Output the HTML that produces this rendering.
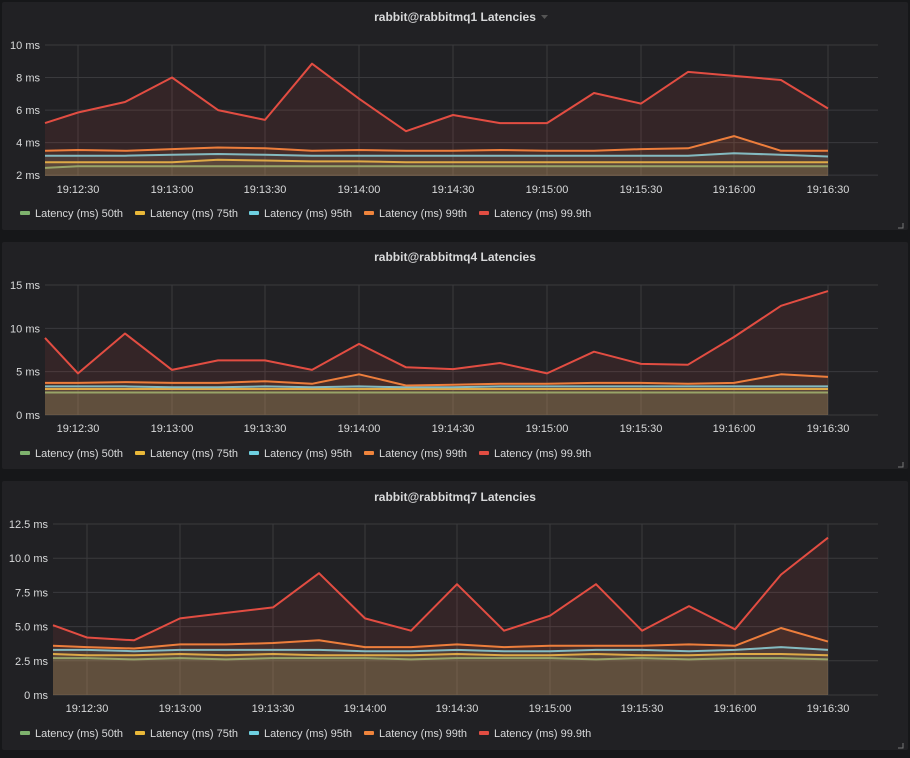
<!DOCTYPE html>
<html><head><meta charset="utf-8"><style>
body{margin:0;background:#161719;width:910px;height:753px;overflow:hidden;font-family:"Liberation Sans",sans-serif}
</style></head><body>
<svg id="s" width="910" height="753" xmlns="http://www.w3.org/2000/svg" font-family="Liberation Sans, sans-serif"></svg>
<script>
const S=document.getElementById('s');let h='';
const C={g:'#7eb26d',y:'#eab839',b:'#6ed0e0',o:'#ef843c',r:'#e24d42'};
function panel(p){
 h+=`<rect x="2" y="${p.py}" width="906" height="${p.ph}" fill="#212124" rx="2"/>`;
 h+=`<text x="455" y="${p.ty}" fill="#d8d9da" font-size="12" font-weight="bold" text-anchor="middle">${p.title}</text>`;
 if(p.caret)h+=`<path d="M541 ${p.ty-6}l7 0l-3.5 4z" fill="#555"/>`;
 const y=v=>p.y0+(v-p.vmin)*(p.y1-p.y0)/(p.vmax-p.vmin);
 p.yt.forEach(t=>{h+=`<line x1="${p.xl}" x2="878" y1="${y(t[0])}" y2="${y(t[0])}" stroke="#3a3a3d"/>`;
  h+=`<text x="${p.xl-5}" y="${y(t[0])+4}" fill="#d8d9da" font-size="11" text-anchor="end">${t[1]}</text>`;});
 const lbl=['19:12:30','19:13:00','19:13:30','19:14:00','19:14:30','19:15:00','19:15:30','19:16:00','19:16:30'];
 p.xt.forEach((x,i)=>{h+=`<line x1="${x}" x2="${x}" y1="${p.y1}" y2="${p.y0}" stroke="#3a3a3d"/>`;
  h+=`<text x="${x}" y="${p.y0+17}" fill="#d8d9da" font-size="11" text-anchor="middle">${lbl[i]}</text>`;});
 const xs=p.xs;
 ['g','y','b','o','r'].forEach(k=>{const d=p.d[k];
  const pts=d.map((v,i)=>xs[i]+','+y(v).toFixed(1)).join(' ');
  h+=`<polygon points="${xs[0]},${p.y0} ${pts} ${xs[xs.length-1]},${p.y0}" fill="${C[k]}" fill-opacity="0.1"/>`;
  h+=`<polyline points="${pts}" fill="none" stroke="${C[k]}" stroke-width="2" stroke-linejoin="round"/>`;});
 const L=[['g','50th',20],['y','75th',135],['b','95th',249],['o','99th',364],['r','99.9th',479]];
 L.forEach(l=>{h+=`<rect x="${l[2]}" y="${p.ly-2}" width="10" height="4" rx="1" fill="${C[l[0]]}"/>`;
  h+=`<text x="${l[2]+15}" y="${p.ly+4}" fill="#d8d9da" font-size="11">Latency (ms) ${l[1]}</text>`;});
 h+=`<path d="M${903} ${p.py+p.ph-7}v5h-5" stroke="#777" fill="none"/>`;
}
const xs1=[45,78,125,172,218,265,312,359,406,453,500,547,594,641,688,734,781,828];
const f=(n,v)=>Array(18).fill(v);
panel({py:2,ph:228,ty:21,title:'rabbit@rabbitmq1 Latencies',caret:1,xl:45,y0:176,y1:45,vmin:1.95,vmax:10,
 yt:[[2,'2 ms'],[4,'4 ms'],[6,'6 ms'],[8,'8 ms'],[10,'10 ms']],xt:[78,172,265,359,453,547,641,734,828],xs:xs1,ly:213,
 d:{r:[5.2,5.85,6.5,8,6,5.4,8.85,6.7,4.7,5.7,5.2,5.2,7.05,6.4,8.35,8.1,7.85,6.1],
 o:[3.5,3.55,3.5,3.6,3.7,3.65,3.5,3.55,3.5,3.5,3.55,3.5,3.5,3.6,3.65,4.4,3.5,3.5],
 b:[3.2,3.2,3.2,3.25,3.3,3.25,3.2,3.2,3.2,3.2,3.2,3.2,3.2,3.2,3.2,3.35,3.25,3.15],
 y:[2.8,2.8,2.8,2.8,2.95,2.9,2.85,2.85,2.8,2.8,2.8,2.8,2.8,2.8,2.8,2.8,2.8,2.8],
 g:[2.45,2.55,2.55,2.55,2.55,2.55,2.55,2.55,2.55,2.55,2.55,2.55,2.55,2.55,2.55,2.55,2.55,2.55]}});
panel({py:242,ph:227,ty:261,title:'rabbit@rabbitmq4 Latencies',xl:45,y0:415,y1:285,vmin:0,vmax:15,
 yt:[[0,'0 ms'],[5,'5 ms'],[10,'10 ms'],[15,'15 ms']],xt:[78,172,265,359,453,547,641,734,828],xs:xs1,ly:453,
 d:{r:[8.9,4.8,9.4,5.2,6.3,6.3,5.2,8.2,5.5,5.3,6.0,4.8,7.3,5.9,5.8,9.0,12.6,14.3],
 o:[3.7,3.7,3.8,3.7,3.7,3.9,3.6,4.7,3.4,3.5,3.6,3.6,3.7,3.7,3.6,3.7,4.7,4.4],
 b:[3.3,3.3,3.3,3.2,3.2,3.3,3.2,3.3,3.2,3.2,3.3,3.3,3.3,3.3,3.3,3.3,3.3,3.3],
 y:f(0,3.0),g:f(0,2.6)}});
const xs3=[53,87,134,180,226,273,319,365,411,457,504,550,596,642,689,735,781,828];
panel({py:481,ph:269,ty:501,title:'rabbit@rabbitmq7 Latencies',xl:53,y0:695,y1:524,vmin:0,vmax:12.5,
 yt:[[0,'0 ms'],[2.5,'2.5 ms'],[5,'5.0 ms'],[7.5,'7.5 ms'],[10,'10.0 ms'],[12.5,'12.5 ms']],xt:[87,180,273,365,457,550,642,735,828],xs:xs3,ly:733,
 d:{r:[5.1,4.2,4.0,5.6,6.0,6.4,8.9,5.6,4.7,8.1,4.7,5.8,8.1,4.7,6.5,4.8,8.8,11.5],
 o:[3.6,3.5,3.4,3.7,3.7,3.8,4.0,3.5,3.5,3.7,3.5,3.6,3.6,3.6,3.7,3.6,4.9,3.9],
 b:[3.3,3.3,3.2,3.3,3.3,3.3,3.3,3.2,3.2,3.3,3.2,3.2,3.3,3.3,3.2,3.3,3.5,3.3],
 y:[3.0,2.9,2.9,3.0,2.9,3.0,2.9,2.9,2.9,3.0,2.9,2.9,3.0,2.9,2.9,3.0,3.0,2.9],
 g:[2.7,2.7,2.6,2.7,2.6,2.7,2.7,2.7,2.6,2.7,2.7,2.7,2.6,2.7,2.6,2.7,2.7,2.6]}});
S.innerHTML=h;
</script>
</body></html>
